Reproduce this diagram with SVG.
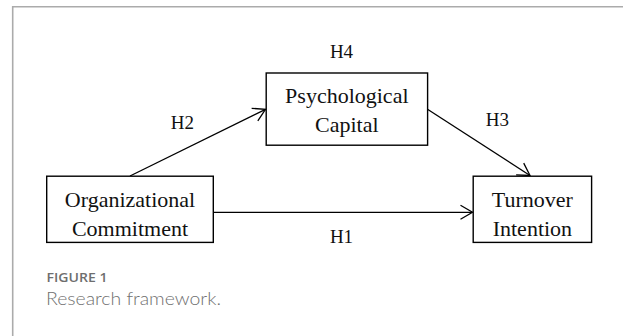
<svg xmlns="http://www.w3.org/2000/svg" width="623" height="336" viewBox="0 0 623 336">
<style>
.box{fill:#fff;stroke:#000;stroke-width:1.4}
.t{font-family:"Liberation Serif","Times New Roman",serif;font-size:22px;fill:#111;text-anchor:middle}
.lbl{font-family:"Liberation Serif","Times New Roman",serif;font-size:19px;fill:#111;text-anchor:middle}
.ln{stroke:#000;stroke-width:1.3;fill:none}
</style>
<defs>
<marker id="ah" viewBox="0 0 14 16" refX="13" refY="8" markerWidth="14" markerHeight="16" markerUnits="userSpaceOnUse" orient="auto">
<path d="M1,1 L13,8 L1,15" fill="none" stroke="#000" stroke-width="1.3"/>
</marker>
</defs>
<rect width="623" height="336" fill="#fff"/>
<path d="M12.7,336 V6.8 H623" fill="none" stroke="#ababab" stroke-width="1.6"/>
<g id="connectors">
<line class="ln" x1="213.3" y1="212.3" x2="472.5" y2="212.3" marker-end="url(#ah)"/>
<line class="ln" x1="130" y1="176" x2="265.5" y2="109.3" marker-end="url(#ah)"/>
<line class="ln" x1="427.5" y1="109.3" x2="530" y2="175.5" marker-end="url(#ah)"/>
</g>
<g id="org">
<rect class="box" x="46.7" y="176.2" width="166.6" height="66.2"/>
<text class="t" x="130" y="206.7">Organizational</text>
<text class="t" x="130" y="236">Commitment</text>
</g>
<g id="psy">
<rect class="box" x="266.2" y="73" width="161.4" height="72.2"/>
<text class="t" x="346.8" y="103">Psychological</text>
<text class="t" x="346.8" y="132">Capital</text>
</g>
<g id="turn">
<rect class="box" x="473.2" y="176.2" width="118.4" height="66.2"/>
<text class="t" x="532.4" y="206.7">Turnover</text>
<text class="t" x="532.4" y="236">Intention</text>
</g>
<g id="labels">
<text class="lbl" x="341.5" y="57.5">H4</text>
<text class="lbl" x="182.3" y="129.3">H2</text>
<text class="lbl" x="497.3" y="125.5">H3</text>
<text class="lbl" x="341.5" y="242.5">H1</text>
</g>
<g id="caption">
<text x="46.5" y="281.5" font-family="'Open Sans','Noto Sans',sans-serif" font-weight="600" font-size="13" fill="#6e6e6e" textLength="61" lengthAdjust="spacingAndGlyphs">FIGURE 1</text>
<text x="46" y="304.5" font-family="Lato,'Open Sans',sans-serif" font-weight="300" font-size="18.5" fill="#707070" textLength="175" lengthAdjust="spacingAndGlyphs">Research framework.</text>
</g>
</svg>
